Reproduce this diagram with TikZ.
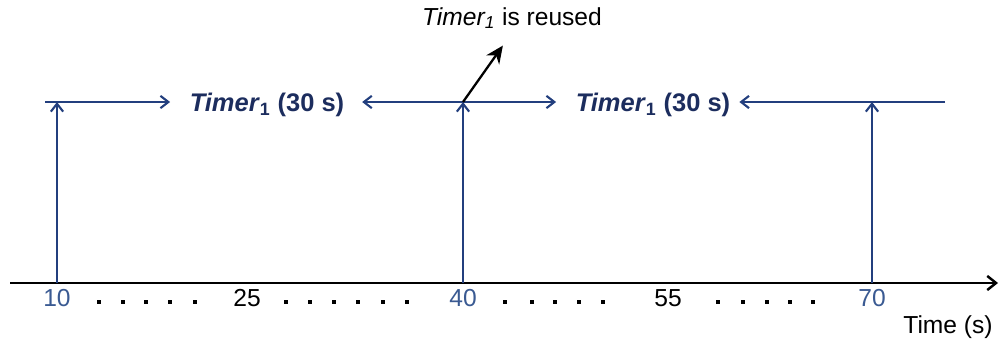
\documentclass[tikz,border=0pt]{standalone}
\usepackage{fontspec}
\setmainfont{Liberation Sans}
\usepackage{xcolor}
\usetikzlibrary{arrows.meta}
\definecolor{timerblue}{HTML}{233F7E}
\definecolor{ticksblue}{HTML}{3A5A92}
\definecolor{labelnavy}{HTML}{1C2D5E}

\tikzset{
  tline/.style={timerblue,line width=1.2pt},
  tarrow/.style={tline,-{Straight Barb[length=4.5pt,width=7pt,line width=1.2pt]}},
  tlabel/.style={inner sep=2pt,text=labelnavy,font=\fontsize{14.5}{17}\selectfont\bfseries},
  ticklab/.style={inner sep=1pt,font=\fontsize{14}{16}\selectfont},
}

\begin{document}
\begin{tikzpicture}[x=0.02cm,y=-0.02cm]
  \useasboundingbox (0,0) rectangle (1000,345);

  % time axis
  \coordinate (axstart) at (10,283);
  \coordinate (axend) at (998,283);
  \draw[line width=1.7pt,-{Straight Barb[length=5pt,width=8pt,line width=1.4pt]}] (axstart) -- (axend);

  \coordinate (t10) at (57,283);
  \coordinate (t40) at (463,283);
  \coordinate (t70) at (872,283);
  \coordinate (top10) at (57,102);
  \coordinate (top40) at (463,102);
  \coordinate (top70) at (872,102);

  \draw[tarrow] (t10) -- (top10);
  \draw[tarrow] (t40) -- (top40);
  \draw[tarrow] (t70) -- (top70);

  % timer intervals
  \node[tlabel] (lab1) at (267,105) {\textit{Timer}\textsubscript{1} (30 s)};
  \node[tlabel] (lab2) at (653,105) {\textit{Timer}\textsubscript{1} (30 s)};
  \coordinate (hstart) at (45,102);
  \coordinate (hend) at (945,102);

  \draw[tarrow,shorten >=9pt] (hstart) -- (lab1.west |- hstart);
  \draw[tarrow,shorten >=8pt] (top40) -- (lab1.east |- top40);
  \draw[tarrow,shorten >=9pt] (top40) -- (lab2.west |- top40);
  \draw[tarrow,shorten >=3pt] (hend) -- (lab2.east |- hend);

  % reuse note
  \node[inner sep=2pt,font=\fontsize{14}{16}\selectfont] (reuse) at (512,18) {\textit{Timer\textsubscript{1}} is reused};
  \draw[line width=1.3pt,-{Stealth[length=10pt,width=9pt]},shorten >=9pt] (top40) -- (reuse.south);

  % tick labels
  \node[ticklab,text=ticksblue] (n10) at (57,298) {10};
  \node[ticklab] (n25) at (247,298) {25};
  \node[ticklab,text=ticksblue] (n40) at (463,298) {40};
  \node[ticklab] (n55) at (668,298) {55};
  \node[ticklab,text=ticksblue] (n70) at (872,298) {70};
  \foreach \x in {99,123,146,170,195,286,310,334,358,383,407,505,532,555,579,603,718,743,767,790,813}
    \fill (\x-2,300) rectangle (\x+2,304);

  \node[ticklab] (tlabel) at (948,327) {Time (s)};
\end{tikzpicture}
\end{document}
